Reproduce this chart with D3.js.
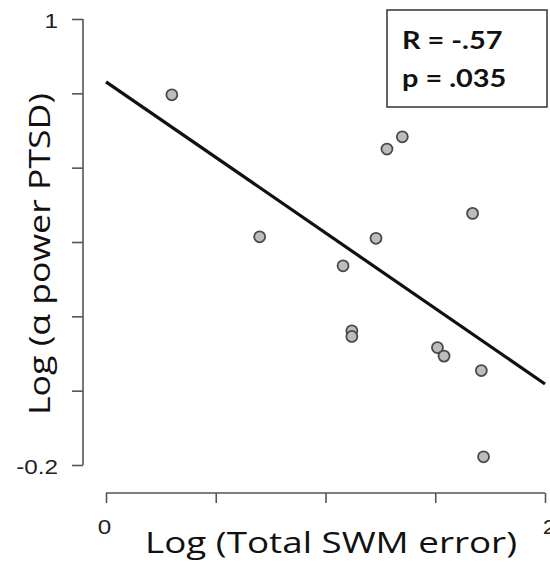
<!DOCTYPE html>
<html>
<head>
<meta charset="utf-8">
<script src="https://cdn.jsdelivr.net/npm/d3@7"></script>
<style>
  body { margin: 0; background: #fff; }
  svg { display: block; }
  .axis path, .axis line { stroke: #555; stroke-width: 1.6; }
  .tick text { font-family: "Liberation Sans", Arial, sans-serif; font-size: 21px; fill: #222; }
  .title { font-family: "Open Sans", Lato, sans-serif; font-size: 30px; fill: #111; }
  .stat { font-family: Lato, "Open Sans", sans-serif; font-size: 25px; font-weight: bold; fill: #111; }
</style>
</head>
<body>
<div id="chart"></div>
<script>
// data
var swmError = [0.30, 1.35, 1.28, 0.70, 1.23, 1.08, 1.12, 1.12, 1.51, 1.54, 1.67, 1.71, 1.72];
var alphaPower = [0.796, 0.683, 0.650, 0.414, 0.410, 0.336, 0.161, 0.146, 0.116, 0.093, 0.477, 0.054, -0.178];
var fitX = [0, 2];
var fitY = [0.831, 0.018];
var xTicks = [0, 0.5, 1, 1.5, 2];
var yTicks = [-0.2, 0, 0.2, 0.4, 0.6, 0.8, 1];
var xLabels = {0: "0", 2: "2"};
var yLabels = {1: "1", "-0.2": "-0.2"};
var statLines = ["R = -.57", "p = .035"];

var width = 550, height = 562;
var hstretch = 1.155; // the source figure is a bit wider than tall
var svg = d3.select("#chart").append("svg").attr("width", width).attr("height", height);

var x = d3.scaleLinear().domain([0, 2]).range([106, 545]);
var y = d3.scaleLinear().domain([-0.2, 1]).range([465, 19]);

// widen text horizontally to mimic the stretched original
function stretch(sel, k) {
  sel.each(function() {
    var n = this.getComputedTextLength();
    if (n > 0) d3.select(this).attr("textLength", n * k).attr("lengthAdjust", "spacingAndGlyphs");
  });
}

// axes
var xAxis = d3.axisBottom(x).tickValues(xTicks).tickSize(10).tickSizeOuter(0)
  .tickFormat(function(d) { return xLabels[d] || ""; });
var yAxis = d3.axisLeft(y).tickValues(yTicks).tickSize(11).tickSizeOuter(0)
  .tickFormat(function(d) { return yLabels[String(Math.round(d * 10) / 10)] || ""; });

var gx = svg.append("g").attr("class", "axis").attr("transform", "translate(0,493)").call(xAxis);
gx.select(".domain").attr("d", "M" + x(0) + ",0H" + x(2));
gx.selectAll(".tick text").attr("y", 41).attr("dy", 0)
  .attr("dx", function(d) { return d === 0 ? -2 : 4; })
  .call(stretch, hstretch);

var gy = svg.append("g").attr("class", "axis").attr("transform", "translate(83,0)").call(yAxis);
gy.select(".domain").attr("d", "M0," + y(1) + "V" + y(-0.2));
gy.selectAll(".tick text").attr("x", -25).attr("dy", "0.4em").call(stretch, hstretch);

// regression line
var line = d3.line().x(function(d) { return x(d[0]); }).y(function(d) { return y(d[1]); });
svg.append("path")
  .datum(d3.zip(fitX, fitY))
  .attr("d", line)
  .attr("fill", "none")
  .attr("stroke", "#111")
  .attr("stroke-width", 3.2);

// points
svg.selectAll("circle.pt")
  .data(d3.zip(swmError, alphaPower))
  .enter().append("circle")
  .attr("class", "pt")
  .attr("cx", function(d) { return x(d[0]); })
  .attr("cy", function(d) { return y(d[1]); })
  .attr("r", 5.5)
  .attr("fill", "#bdbdbd")
  .attr("stroke", "#4a4a4a")
  .attr("stroke-width", 1.8);

// axis titles
svg.append("text").attr("class", "title")
  .attr("x", 331).attr("y", 553).attr("text-anchor", "middle")
  .attr("textLength", 372).attr("lengthAdjust", "spacingAndGlyphs")
  .text("Log (Total SWM error)");
svg.append("text").attr("class", "title")
  .attr("transform", "translate(50,254) rotate(-90)").attr("text-anchor", "middle")
  .attr("textLength", 322).attr("lengthAdjust", "spacingAndGlyphs")
  .text("Log (\u03b1 power PTSD)");

// stats box
svg.append("rect")
  .attr("x", 387).attr("y", 10).attr("width", 160).attr("height", 97)
  .attr("fill", "#fff").attr("stroke", "#333").attr("stroke-width", 1.5);
svg.selectAll("text.stat")
  .data(statLines)
  .enter().append("text")
  .attr("class", "stat")
  .attr("x", 402)
  .attr("y", function(d, i) { return 49 + i * 38; })
  .text(function(d) { return d; })
  .call(stretch, hstretch);
</script>
</body>
</html>
